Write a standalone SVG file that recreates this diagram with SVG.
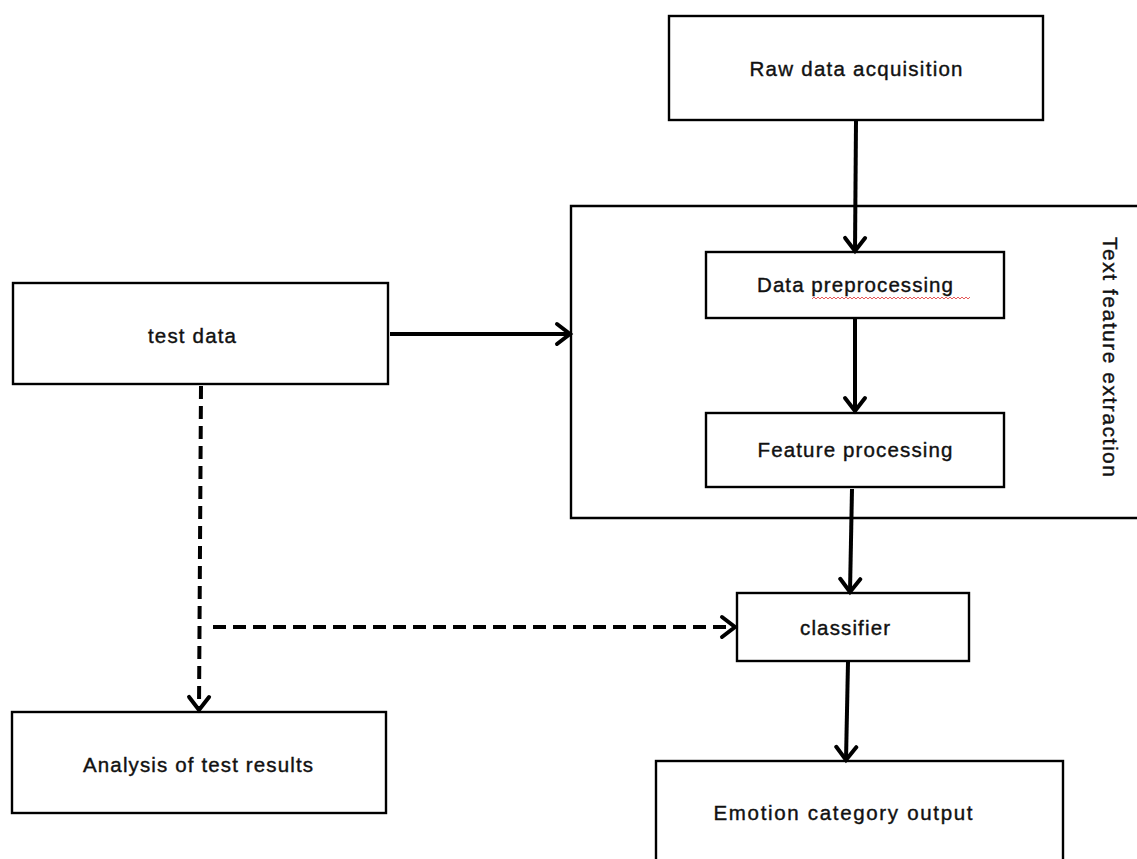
<svg xmlns="http://www.w3.org/2000/svg" width="1137" height="859" viewBox="0 0 1137 859">
<style>
.box{fill:#fff;stroke:#000;stroke-width:2.4}
.lbl{font-family:"Liberation Sans",Arial,sans-serif;font-size:20.5px;fill:#111;stroke:#111;stroke-width:0.4;text-anchor:middle;dominant-baseline:central}
.solid{fill:none;stroke:#000;stroke-width:4}
.dash{fill:none;stroke:#000;stroke-width:4;stroke-dasharray:13,7}
</style>
<defs>
<marker id="arr" markerUnits="userSpaceOnUse" markerWidth="26" markerHeight="26" viewBox="0 0 26 26" refX="22" refY="13" orient="auto">
<path d="M9,3 L22,13 L9,23" fill="none" stroke="#000" stroke-width="4" stroke-linecap="round" stroke-linejoin="miter"/>
</marker>
</defs>
<g id="group-text-feature-extraction">
<path d="M1137,206 L571,206 L571,518 L1137,518" fill="none" stroke="#000" stroke-width="2.4"/>
<text class="lbl" transform="translate(1110,357) rotate(90)" textLength="240" lengthAdjust="spacing" style="font-size:21px">Text feature extraction</text>
</g>
<g id="node-raw">
<rect class="box" x="669" y="16" width="374" height="104"/>
<text class="lbl" x="856" y="68" textLength="213" lengthAdjust="spacing">Raw data acquisition</text>
</g>
<g id="node-preproc">
<rect class="box" x="706" y="252" width="298" height="66"/>
<text class="lbl" x="855" y="284" textLength="196" lengthAdjust="spacing">Data preprocessing</text>
<path d="M812,299 l2,-2 l2,2 l2,-2 l2,2 l2,-2 l2,2 l2,-2 l2,2 l2,-2 l2,2 l2,-2 l2,2 l2,-2 l2,2 l2,-2 l2,2 l2,-2 l2,2 l2,-2 l2,2 l2,-2 l2,2 l2,-2 l2,2 l2,-2 l2,2 l2,-2 l2,2 l2,-2 l2,2 l2,-2 l2,2 l2,-2 l2,2 l2,-2 l2,2 l2,-2 l2,2 l2,-2 l2,2 l2,-2 l2,2 l2,-2 l2,2 l2,-2 l2,2 l2,-2 l2,2 l2,-2 l2,2 l2,-2 l2,2 l2,-2 l2,2 l2,-2 l2,2 l2,-2 l2,2 l2,-2 l2,2 l2,-2 l2,2 l2,-2 l2,2 l2,-2 l2,2 l2,-2 l2,2 l2,-2 l2,2 l2,-2 l2,2 l2,-2 l2,2 l2,-2 l2,2 l2,-2 l2,2 l2,-2" fill="none" stroke="#e03030" stroke-width="0.8"/>
</g>
<g id="node-feature">
<rect class="box" x="706" y="413" width="298" height="74"/>
<text class="lbl" x="855" y="449" textLength="195" lengthAdjust="spacing">Feature processing</text>
</g>
<g id="node-test">
<rect class="box" x="13" y="283" width="375" height="101"/>
<text class="lbl" x="192" y="335" textLength="88" lengthAdjust="spacing">test data</text>
</g>
<g id="node-classifier">
<rect class="box" x="737" y="593" width="232" height="68"/>
<text class="lbl" x="845" y="627" textLength="90" lengthAdjust="spacing">classifier</text>
</g>
<g id="node-analysis">
<rect class="box" x="12" y="712" width="374" height="101"/>
<text class="lbl" x="198" y="764" textLength="230" lengthAdjust="spacing">Analysis of test results</text>
</g>
<g id="node-emotion">
<rect class="box" x="656" y="761" width="407" height="110"/>
<text class="lbl" x="843" y="812" textLength="259" lengthAdjust="spacing">Emotion category output</text>
</g>
<g id="connectors">
<line class="solid" x1="856" y1="121" x2="855" y2="251" marker-end="url(#arr)"/>
<line class="solid" x1="855" y1="319" x2="855" y2="411" marker-end="url(#arr)"/>
<line class="solid" x1="852" y1="489" x2="850" y2="592" marker-end="url(#arr)"/>
<line class="solid" x1="848" y1="662" x2="846" y2="760" marker-end="url(#arr)"/>
<line class="solid" x1="390" y1="334" x2="570" y2="334" marker-end="url(#arr)"/>
<line class="dash" x1="201" y1="386" x2="199" y2="710" marker-end="url(#arr)"/>
<line class="dash" x1="213" y1="627" x2="735" y2="627" marker-end="url(#arr)"/>
</g>
</svg>
